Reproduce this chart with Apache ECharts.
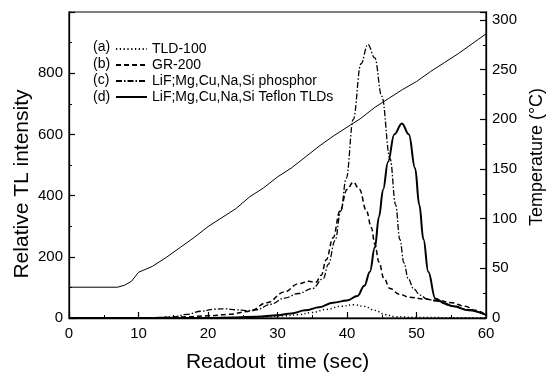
<!DOCTYPE html>
<html>
<head>
<meta charset="utf-8">
<script src="https://cdn.jsdelivr.net/npm/echarts@6/dist/echarts.min.js"></script>
<style>
  html, body { margin: 0; background: #fff; }
  #chart { width: 551px; height: 378px; }
</style>
</head>
<body>
<div id="chart"></div>
<script>
// readout time (sec) / value pairs
var tld100_t = [0, 15, 20, 25, 28, 31, 33, 35, 37, 39, 41, 42.5, 44, 45.5, 47, 50, 55, 60];
var tld100_v = [0, 0, 1, 2, 4, 7, 11, 18, 28, 38, 43, 38, 25, 11, 4, 2, 1, 0];

var gr200_t = [0, 10, 14, 17, 20, 23, 26, 28.5, 31, 33, 34.5, 35.5, 36.3, 37, 38, 39, 40, 40.9, 41.8, 42.8, 43.5, 44, 44.6, 45.3, 46.2, 47.5, 49, 51, 53, 55, 57, 58.5, 60];
var gr200_v = [0, 0, 2, 4, 7, 12, 22, 50, 85, 112, 120, 116, 140, 190, 262, 350, 420, 444, 420, 350, 296, 242, 183, 130, 96, 78, 68, 62, 58, 50, 38, 25, 10];

var phosphor_t = [0, 12, 15, 17, 19, 21, 22.5, 24, 25.5, 27, 29, 31, 33, 35, 36.6, 37.3, 38.3, 39.1, 39.9, 40.9, 42, 43, 44, 45, 46.2, 47, 47.6, 48.2, 48.8, 49.6, 50.5, 51.5, 52.9, 55, 57.7, 60];
var phosphor_v = [0, 0, 4, 12, 22, 29, 30, 27, 24, 27, 45, 65, 80, 96, 129, 175, 254, 350, 457, 649, 830, 894, 850, 725, 521, 370, 257, 180, 129, 95, 75, 62, 55, 40, 27, 8];

var teflon_t = [0, 20, 24, 27, 30, 32, 34, 36, 38, 40, 41.5, 42.5, 43.3, 44, 44.6, 45.2, 45.9, 46.8, 47.9, 48.9, 49.8, 50.4, 51, 51.7, 52.7, 54, 55.3, 57.5, 60];
var teflon_v = [0, 0, 2, 4, 9, 15, 25, 35, 50, 57, 72, 105, 151, 230, 330, 420, 510, 600, 636, 600, 489, 370, 257, 151, 64, 48, 38, 25, 10];

var temp_t = [0, 7, 8, 9, 10, 12, 14, 16, 18, 20, 22, 24, 26, 28, 30, 32, 34, 36, 38, 40, 42, 44, 46, 48, 50, 52, 54, 56, 58, 60];
var temp_v = [31, 31, 33, 37, 46, 52, 61, 71, 81, 92, 101, 110, 122, 131, 142, 151, 162, 173, 183, 192, 201, 212, 221, 230, 238, 248, 257, 266, 276, 286];

var legendNames = ["TLD-100", "GR-200", "LiF;Mg,Cu,Na,Si phosphor", "LiF;Mg,Cu,Na,Si Teflon TLDs"];
var legendTags = ["(a)", "(b)", "(c)", "(d)"];

function pairs(t, v) {
  var out = [];
  for (var i = 0; i < t.length; i++) out.push([t[i], v[i]]);
  return out;
}

var myChart = echarts.init(document.getElementById("chart"));

var font = "Liberation Sans, Arial, sans-serif";
var axisLine = { show: true, lineStyle: { color: "#000", width: 1.3 } };
var tick = { inside: true, length: 6, lineStyle: { color: "#000", width: 1.2 } };
var minor = { show: true, splitNumber: 2, length: 3, lineStyle: { color: "#000" } };

var graphics = legendTags.map(function (s, i) {
  return {
    type: "text", x: 93, y: 47 + i * 16.7,
    style: { text: s, font: "14px " + font, fill: "#000", verticalAlign: "middle" }
  };
});
// axis titles placed by hand: in the scan they sit off-centre
graphics.push({
  type: "text", x: 22, y: 184, rotation: Math.PI / 2,
  style: { text: "Relative TL intensity", font: "21px " + font, fill: "#000", align: "center", verticalAlign: "middle" }
});
graphics.push({
  type: "text", x: 537, y: 157, rotation: Math.PI / 2,
  style: { text: "Temperature (°C)", font: "18px " + font, fill: "#000", align: "center", verticalAlign: "middle" }
});

var option = {
  backgroundColor: "#fff",
  animation: false,
  textStyle: { fontFamily: font, color: "#000" },
  grid: {
    left: 69, right: 65, top: 12, bottom: 58,
    show: true, borderColor: "#000", borderWidth: 1.2
  },
  legend: {
    orient: "vertical",
    left: 110,
    top: 37,
    itemWidth: 31,
    itemHeight: 13,
    itemGap: 2,
    itemStyle: { opacity: 0 },
    textStyle: { fontSize: 14, color: "#000", fontFamily: font },
    data: legendNames
  },
  graphic: graphics,
  xAxis: {
    type: "value", min: 0, max: 60, interval: 10,
    name: "Readout  time (sec)", nameLocation: "middle", nameGap: 34,
    nameTextStyle: { fontSize: 21, color: "#000" },
    axisLine: axisLine, axisTick: tick, minorTick: minor,
    axisLabel: { fontSize: 15, color: "#000", margin: 8 },
    splitLine: { show: false }
  },
  yAxis: [
    {
      type: "value", min: 0, max: 1000, interval: 200,
      axisLine: axisLine, axisTick: tick, minorTick: minor,
      axisLabel: { fontSize: 15, color: "#000", margin: 6, showMaxLabel: false },
      splitLine: { show: false }
    },
    {
      type: "value", min: 0, max: 308, interval: 50, position: "right",
      axisLine: axisLine, axisTick: tick, minorTick: minor,
      axisLabel: { fontSize: 15, color: "#000", margin: 6, showMaxLabel: false },
      splitLine: { show: false }
    }
  ],
  series: [
    {
      name: legendNames[0], type: "line", symbol: "none", smooth: 0.4, smoothMonotone: "x",
      color: "#000", lineStyle: { color: "#000", width: 1.5, type: [1.2, 2.6] },
      data: pairs(tld100_t, tld100_v)
    },
    {
      name: legendNames[1], type: "line", symbol: "none", smooth: 0.4, smoothMonotone: "x",
      color: "#000", lineStyle: { color: "#000", width: 1.5, type: [5, 3] },
      data: pairs(gr200_t, gr200_v)
    },
    {
      name: legendNames[2], type: "line", symbol: "none", smooth: 0.4, smoothMonotone: "x",
      color: "#000", lineStyle: { color: "#000", width: 1.3, type: [6, 2, 1.5, 2] },
      data: pairs(phosphor_t, phosphor_v)
    },
    {
      name: legendNames[3], type: "line", symbol: "none", smooth: 0.4, smoothMonotone: "x",
      color: "#000", lineStyle: { color: "#000", width: 2 },
      data: pairs(teflon_t, teflon_v)
    },
    {
      name: "Temperature", type: "line", yAxisIndex: 1, symbol: "none",
      color: "#000", lineStyle: { color: "#000", width: 1 },
      data: pairs(temp_t, temp_v)
    }
  ]
};

myChart.setOption(option);
window.addEventListener("resize", myChart.resize);
</script>
</body>
</html>
